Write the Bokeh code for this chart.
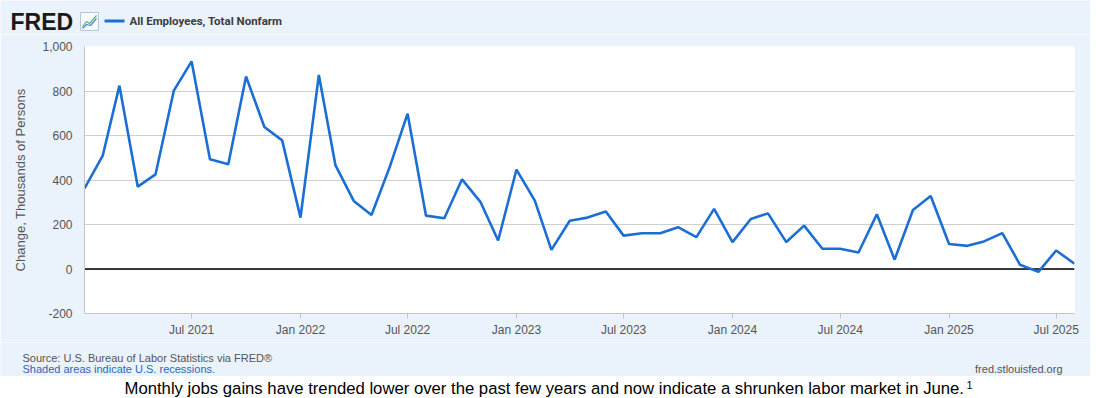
import pandas as pd
from bokeh.plotting import figure
from bokeh.models import (FixedTicker, DatetimeTickFormatter, NumeralTickFormatter, Span,
                          Range1d, ColumnDataSource)
from bokeh.layouts import column
from bokeh.embed import file_html
from bokeh.resources import INLINE
from bokeh.core.properties import value

# ---- data (monthly change in nonfarm payrolls, thousands of persons) ----
months = pd.date_range("2021-01-01", "2025-08-01", freq="MS")
changes_2021 = [362, 511, 824, 370, 425, 802, 933, 493, 471, 865, 638, 578]
changes_2022 = [231, 872, 467, 306, 243, 460, 698, 240, 228, 403, 302, 128]
changes_2023 = [447, 307, 86, 217, 231, 258, 150, 161, 161, 188, 143, 270]
changes_2024 = [121, 225, 250, 121, 195, 91, 91, 74, 246, 42, 265, 328]
changes_2025 = [112, 104, 124, 161, 19, -13, 83, 24]
changes = changes_2021 + changes_2022 + changes_2023 + changes_2024 + changes_2025

x_tick_labels = ["Jul 2021", "Jan 2022", "Jul 2022", "Jan 2023", "Jul 2023",
                 "Jan 2024", "Jul 2024", "Jan 2025", "Jul 2025"]
y_ticks = [-200, 0, 200, 400, 600, 800, 1000]

series_name = "All Employees, Total Nonfarm"
y_title = "Change, Thousands of Persons"
source_text = "Source: U.S. Bureau of Labor Statistics via FRED\u00ae"
shaded_text = "Shaded areas indicate U.S. recessions."
site_text = "fred.stlouisfed.org"
caption = ("Monthly jobs gains have trended lower over the past few years and now "
           "indicate a shrunken labor market in June.")
footnote = "1"

FONT = "Liberation Sans"
PANEL = "#eaf2fb"
BLUE = "#1c6fd2"
GREY = "#555555"
W = 1090


def blank(height, bg=PANEL):
    f = figure(width=W, height=height, x_range=Range1d(0, W), y_range=Range1d(height, 0),
               output_backend="svg", toolbar_location=None,
               x_axis_location=None, y_axis_location=None,
               min_border=0, min_border_left=0, min_border_right=0,
               min_border_top=0, min_border_bottom=0, frame_align=False)
    f.grid.visible = False
    f.background_fill_color = bg
    f.border_fill_color = bg
    f.outline_line_color = None
    return f


# ---- header: FRED logo, icon, legend ----
h = blank(34)
h.text(x=[10], y=[21], text=["FRED"], text_font=value(FONT), text_font_size="23px",
       text_font_style="bold", text_color="#1a1a1a", text_baseline="middle")
h.quad(left=[80], right=[98], top=[12], bottom=[30], fill_color="#f7fafd",
       line_color="#b4c6d8", line_width=1)
h.line(x=[82, 86, 89, 96], y=[26, 21, 23, 15], line_color="#62b36b", line_width=1.2)
h.line(x=[82, 86, 90, 96], y=[28, 24, 25, 18], line_color="#3f86d6", line_width=1.2)
h.segment(x0=[104], y0=[20.5], x1=[124], y1=[20.5], line_color=BLUE, line_width=3)
h.text(x=[129], y=[20.5], text=[series_name], text_font=value("Roboto"), text_font_size="11.5px",
       text_font_style="bold", text_color="#3c3c3c", text_baseline="middle")

# ---- main chart ----
src = ColumnDataSource(dict(x=months, y=changes))
p = figure(width=W, height=308, x_axis_type="datetime",
           x_range=Range1d(start=months[0].to_pydatetime(), end=months[-1].to_pydatetime()),
           y_range=Range1d(start=-200, end=1000),
           output_backend="svg", toolbar_location=None, frame_align=False,
           min_border_left=84, min_border_right=16, min_border_top=12, min_border_bottom=29)
p.background_fill_color = "white"
p.border_fill_color = PANEL
p.outline_line_color = None
p.xgrid.visible = False
p.ygrid.grid_line_color = "#cfcfcf"
p.ygrid.grid_line_width = 1

p.add_layout(Span(location=0, dimension="width", line_color="black", line_width=1.6,
                  level="underlay"))
p.line("x", "y", source=src, line_color=BLUE, line_width=2.6)

ya = p.yaxis[0]
ya.ticker = FixedTicker(ticks=y_ticks)
ya.formatter = NumeralTickFormatter(format="0,0")
ya.major_tick_line_color = None
ya.minor_tick_line_color = None
ya.major_tick_out = 0
ya.major_tick_in = 0
ya.axis_line_color = "#c4c4c4"
ya.major_label_standoff = 12
ya.major_label_text_font = FONT
ya.major_label_text_font_size = "12px"
ya.major_label_text_color = GREY
ya.axis_label = y_title
ya.axis_label_text_font = FONT
ya.axis_label_text_font_size = "13px"
ya.axis_label_text_font_style = "normal"
ya.axis_label_text_color = GREY
ya.axis_label_standoff = 11

tick_ms = [pd.to_datetime(t, format="%b %Y").timestamp() * 1000 for t in x_tick_labels]
xa = p.xaxis[0]
xa.ticker = FixedTicker(ticks=tick_ms)
xa.formatter = DatetimeTickFormatter(days="%b %Y", months="%b %Y", years="%b %Y")
xa.minor_tick_line_color = None
xa.major_tick_out = 5
xa.major_tick_in = 0
xa.major_tick_line_color = "#c4c4c4"
xa.axis_line_color = "#c4c4c4"
xa.major_label_standoff = 4
xa.major_label_text_font = FONT
xa.major_label_text_font_size = "12px"
xa.major_label_text_color = GREY

# ---- footer inside panel ----
ft = blank(34)
ft.text(x=[22], y=[15], text=[source_text], text_font=value(FONT), text_font_size="11px",
        text_color=GREY, text_baseline="middle")
ft.text(x=[22], y=[26.5], text=[shaded_text], text_font=value(FONT), text_font_size="11px",
        text_color="#2a68b8", text_baseline="middle")
ft.text(x=[1062], y=[26.5], text=[site_text], text_font=value(FONT), text_font_size="11px",
        text_color=GREY, text_baseline="middle", text_align="right")

# ---- caption below panel ----
cp = blank(22, bg="white")
cp.text(x=[124], y=[12], text=[caption], text_font=value(FONT), text_font_size="16.7px",
        text_color="black", text_baseline="middle")
cp.text(x=[966], y=[8], text=[footnote], text_font=value(FONT), text_font_size="11px",
        text_color="black", text_baseline="middle")

layout = column(h, p, ft, cp, spacing=0)
open("out.html", "w").write(file_html(layout, INLINE))
